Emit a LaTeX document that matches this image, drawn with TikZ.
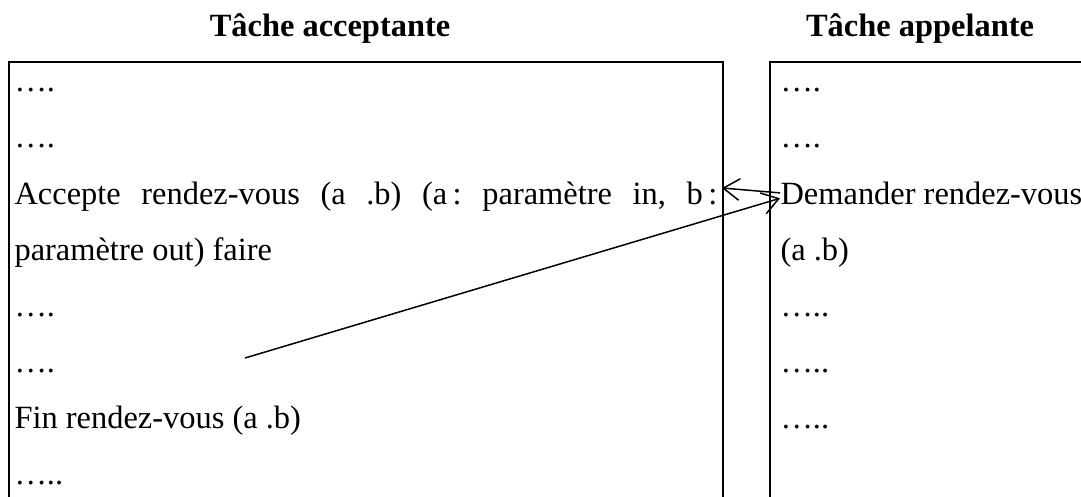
\documentclass[tikz,border=0pt]{standalone}
\usepackage{fontspec}
\setmainfont{Liberation Serif}
\usetikzlibrary{arrows.meta, positioning}
\tikzstyle{title} = [font=\fontsize{12pt}{14pt}\selectfont\bfseries, anchor=base]
\tikzstyle{row} = [font=\fontsize{12pt}{14pt}\selectfont\frenchspacing, anchor=base west, inner sep=0pt]
\tikzstyle{box} = [line width=0.8pt]
\tikzstyle{arrow} = [-{Straight Barb[length=6pt, width=8pt]}, line width=0.55pt]

\begin{document}
\begin{tikzpicture}[x=0.37pt, y=-0.37pt]
    \useasboundingbox (0,0) rectangle (1081,497);

    % Titles
    \node[title] (acctitle) at (330, 37) {Tâche acceptante};
    \node[title] (apptitle) at (920, 37) {Tâche appelante};

    % Boxes (open at the bottom)
    \draw[box] (9, 497) -- (9, 62) -- (723, 62) -- (723, 497);
    \draw[box] (770, 497) -- (770, 62) -- (1085, 62);

    % Accepting task
    \node[row] (a1) at (14, 92) {\char"2026.};
    \node[row] (a2) at (14, 148) {\char"2026.};
    \node[row] (acc) at (14, 204) {\makebox[260pt][s]{Accepte rendez-vous (a .b) (a\,: paramètre in, b\,:}};
    \node[row] (a4) at (14, 260) {paramètre out) faire};
    \node[row] (a5) at (14, 316) {\char"2026.};
    \node[row] (a6) at (14, 372) {\char"2026.};
    \node[row] (fin) at (14, 428) {Fin rendez-vous (a .b)};
    \node[row] (a8) at (14, 484) {\char"2026..};

    % Calling task
    \node[row] (b1) at (780, 92) {\char"2026.};
    \node[row] (b2) at (780, 148) {\char"2026.};
    \node[row] (dem) at (780, 204) {Demander rendez-vous};
    \node[row] (b4) at (780, 260) {(a .b)};
    \node[row] (b5) at (780, 316) {\char"2026..};
    \node[row] (b6) at (780, 372) {\char"2026..};
    \node[row] (b7) at (780, 428) {\char"2026..};

    % Arrows
    \coordinate (rdv) at (722, 188);
    \coordinate (ret) at (245, 358);
    \coordinate (demin) at ([yshift=-2pt]dem.west);
    \draw[arrow] (dem.west) -- (rdv);
    \draw[arrow] (ret) -- (demin);
\end{tikzpicture}
\end{document}
